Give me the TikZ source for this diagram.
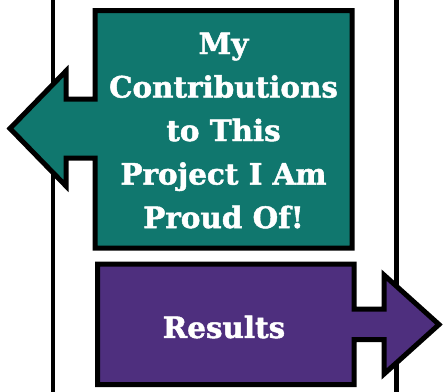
\documentclass[tikz,border=0pt]{standalone}
\usepackage{fontspec}
\newfontfamily\boxfont[FakeBold=1.6]{DejaVu Serif Bold}
\definecolor{tealbox}{RGB}{16,119,110}
\definecolor{purplebox}{RGB}{78,47,126}
\begin{document}
\begin{tikzpicture}[x=1pt,y=-1pt,
  shapeline/.style={draw=black,line width=5pt,line join=miter},
  rail/.style={draw=black,line width=4.5pt},
  label/.style={text=white,font=\boxfont\fontsize{29.4}{43.5}\selectfont,align=center,inner sep=0pt}]
\useasboundingbox (0,0) rectangle (443,391);
\fill[white] (0,0) rectangle (443,391);
% rails
\coordinate (lt) at (53,-5);
\coordinate (lb) at (53,396);
\coordinate (rt) at (396.5,-5);
\coordinate (rb) at (396.5,396);
\draw[rail] (lt) -- (lb);
\draw[rail] (rt) -- (rb);
% teal left arrow box
\draw[shapeline,fill=tealbox]
  (95,10.7) -- (95,99) -- (66,99) -- (66,71) -- (10,128.5) -- (66,186)
  -- (66,158) -- (95,158) -- (95,248) -- (352,248) -- (352,10.7) -- cycle;
% purple right arrow box
\draw[shapeline,fill=purplebox]
  (97.5,264) -- (97.5,384.5) -- (354,384.5) -- (354,339.5) -- (384,339.5)
  -- (384,374) -- (439,324.5) -- (384,275) -- (384,309) -- (354,309)
  -- (354,264) -- cycle;
\node[label] (contrib) at (223.5,130.5) {My\\Contributions\\to This\\Project I Am\\Proud Of!};
\node[label] (results) at (224,327) {Results};
\end{tikzpicture}
\end{document}
